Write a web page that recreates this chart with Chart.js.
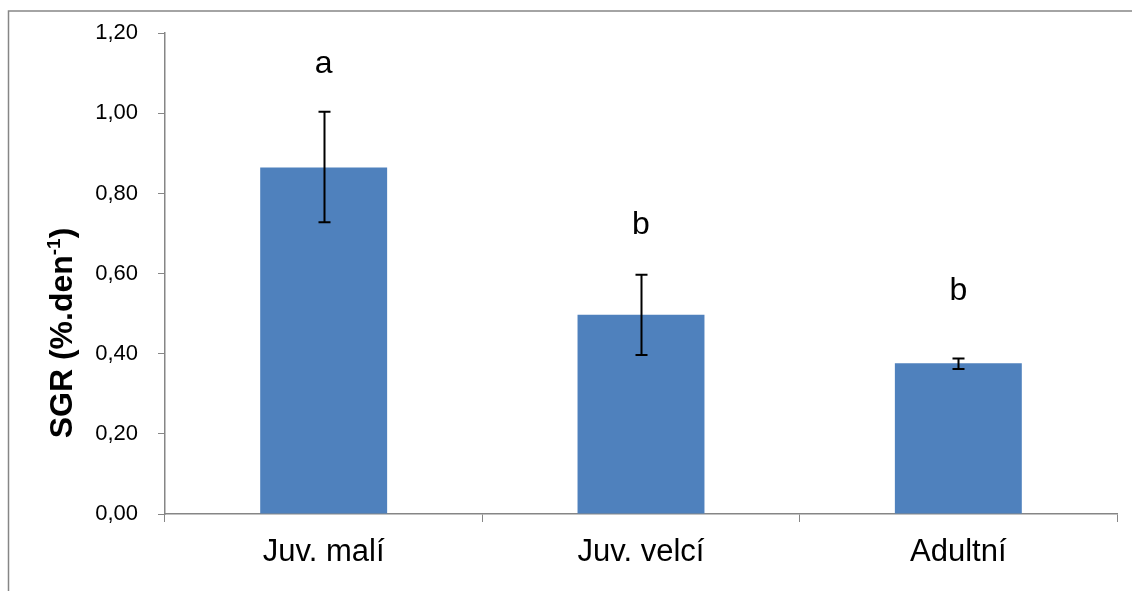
<!DOCTYPE html>
<html>
<head>
<meta charset="utf-8">
<script src="https://cdn.jsdelivr.net/npm/chart.js@4.4.0/dist/chart.umd.min.js"></script>
<style>
  html, body { margin: 0; padding: 0; background: #fff; }
  #wrap { width: 1132px; height: 591px; }
</style>
</head>
<body>
<div id="wrap"><canvas id="grafica" width="1132" height="591"></canvas></div>
<script>
// datos
var categorias = ['Juv. malí', 'Juv. velcí', 'Adultní'];
var sgrMedia = [0.865, 0.497, 0.376];
var errInferior = [0.728, 0.397, 0.362];
var errSuperior = [1.004, 0.597, 0.388];
var letras = ['a', 'b', 'b'];
var letrasY = [1.1, 0.70, 0.535];

var gris = '#868686';

var pluginExtras = {
  id: 'extras',
  afterDatasetsDraw: function (chart) {
    var ctx = chart.ctx;
    var y = chart.scales.y;
    var meta = chart.getDatasetMeta(0);
    ctx.save();
    // barras de error
    ctx.strokeStyle = '#000';
    ctx.lineWidth = 2;
    meta.data.forEach(function (bar, i) {
      var x = Math.round(bar.x) + 0.5;
      var yHi = y.getPixelForValue(errSuperior[i]);
      var yLo = y.getPixelForValue(errInferior[i]);
      ctx.beginPath();
      ctx.moveTo(x, yHi); ctx.lineTo(x, yLo);
      ctx.moveTo(x - 6, yHi); ctx.lineTo(x + 6, yHi);
      ctx.moveTo(x - 6, yLo); ctx.lineTo(x + 6, yLo);
      ctx.stroke();
    });
    // letras de significancia
    ctx.fillStyle = '#000';
    ctx.font = '32px "Liberation Sans", Arial, sans-serif';
    ctx.textAlign = 'center';
    ctx.textBaseline = 'alphabetic';
    meta.data.forEach(function (bar, i) {
      ctx.fillText(letras[i], bar.x, y.getPixelForValue(letrasY[i]));
    });
    ctx.restore();
  },
  afterDraw: function (chart) {
    var ctx = chart.ctx;
    ctx.save();
    // marco exterior (solo se ve arriba e izquierda)
    ctx.strokeStyle = gris;
    ctx.lineWidth = 1.5;
    ctx.beginPath();
    ctx.moveTo(8.5, 600); ctx.lineTo(8.5, 11); ctx.lineTo(1140, 11);
    ctx.stroke();
    // titulo eje y con superindice
    var fuente = 'bold 32px "Liberation Sans", Arial, sans-serif';
    var fuenteSup = 'bold 19px "Liberation Sans", Arial, sans-serif';
    ctx.fillStyle = '#000';
    ctx.font = fuente;
    var t1 = 'SGR (%.den', t3 = ')', sup = '-1';
    var w1 = ctx.measureText(t1).width, w3 = ctx.measureText(t3).width;
    ctx.font = fuenteSup;
    var w2 = ctx.measureText(sup).width;
    var total = w1 + w2 + w3;
    ctx.translate(72, 333);
    ctx.rotate(-Math.PI / 2);
    ctx.textAlign = 'left';
    ctx.textBaseline = 'alphabetic';
    var x0 = -total / 2;
    ctx.font = fuente;
    ctx.fillText(t1, x0, 0);
    ctx.font = fuenteSup;
    ctx.fillText(sup, x0 + w1, -12);
    ctx.font = fuente;
    ctx.fillText(t3, x0 + w1 + w2, 0);
    ctx.restore();
  }
};

var grafico = new Chart(document.getElementById('grafica'), {
  type: 'bar',
  data: {
    labels: categorias,
    datasets: [{
      data: sgrMedia,
      backgroundColor: '#4F81BD',
      borderWidth: 0,
      barPercentage: 0.4,
      categoryPercentage: 1.0
    }]
  },
  options: {
    responsive: false,
    animation: false,
    layout: { padding: { top: 30, right: 15, left: 0, bottom: 0 } },
    plugins: {
      legend: { display: false },
      tooltip: { enabled: false }
    },
    scales: {
      x: {
        afterFit: function (s) { s.height = 77; },
        grid: {
          display: true,
          drawOnChartArea: false,
          drawTicks: true,
          tickLength: 8,
          color: gris,
          offset: true
        },
        border: { color: gris, width: 1.5 },
        ticks: {
          color: '#000',
          padding: 12,
          font: { family: '"Liberation Sans", Arial, sans-serif', size: 31 }
        }
      },
      y: {
        min: 0,
        max: 1.2,
        afterFit: function (s) { s.width = 165; },
        grid: {
          display: true,
          drawOnChartArea: false,
          drawTicks: true,
          tickLength: 7,
          color: gris
        },
        border: { color: gris, width: 1.5 },
        ticks: {
          stepSize: 0.2,
          color: '#000',
          padding: 20,
          font: { family: '"Liberation Sans", Arial, sans-serif', size: 22 },
          callback: function (v) { return Number(v).toFixed(2).replace('.', ','); }
        }
      }
    }
  },
  plugins: [pluginExtras]
});
</script>
</body>
</html>
